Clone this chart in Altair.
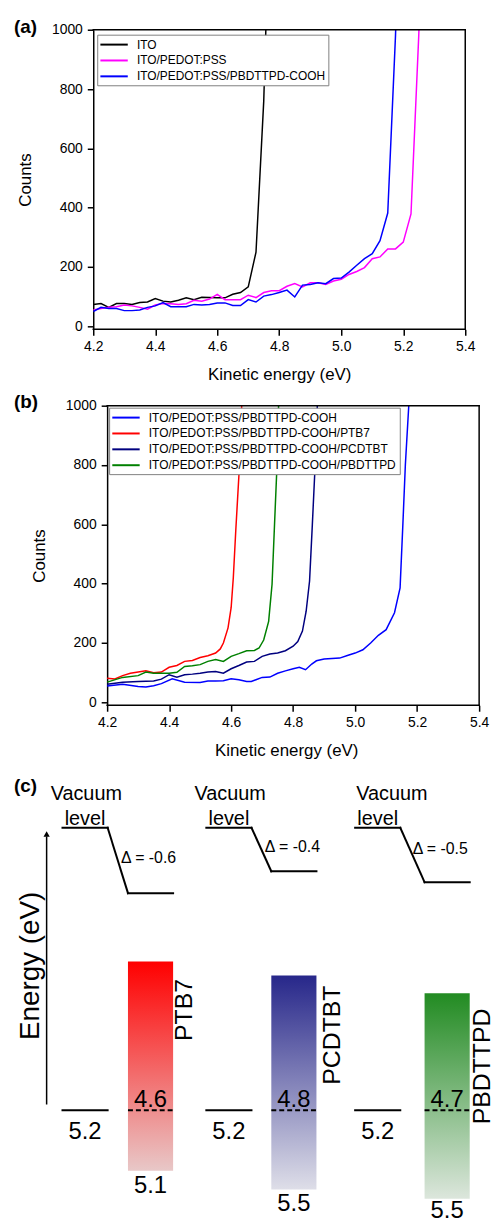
import altair as alt
import pandas as pd

FONT = "Liberation Sans"

# ---------------------------------------------------------------------------
# Panel (a): secondary-electron cut-off of the anode stack
# ---------------------------------------------------------------------------
ev_grid = [4.2, 4.225, 4.25, 4.275, 4.3, 4.325, 4.35, 4.375, 4.4, 4.425,
           4.45, 4.475, 4.5, 4.525, 4.55, 4.575, 4.6, 4.625, 4.65, 4.675,
           4.7, 4.725, 4.75, 4.775, 4.8, 4.825, 4.85, 4.875, 4.9, 4.925,
           4.95, 4.975, 5.0, 5.025, 5.05, 5.075, 5.1, 5.125, 5.15, 5.175,
           5.2, 5.225, 5.25, 5.275]

a_names = ["ITO", "ITO/PEDOT:PSS", "ITO/PEDOT:PSS/PBDTTPD-COOH"]
a_colors = ["#000000", "#ff00ff", "#0000ff"]

ito_counts = [74, 77, 64, 77, 77, 74, 80, 82, 94, 85, 82, 88, 96, 90, 98, 97,
              96, 96, 108, 114, 133, 250, 760, 1650]
pedot_counts = [55, 60, 64, 66, 72, 69, 64, 58, 72, 77, 76, 74, 76, 88, 85, 92,
                108, 90, 90, 90, 105, 97, 114, 120, 120, 135, 144, 133, 147,
                147, 141, 153, 159, 175, 185, 198, 228, 234, 261, 261, 284,
                379, 980, 1800]
cooh_counts_a = [50, 64, 60, 60, 53, 53, 55, 64, 69, 80, 66, 66, 66, 74, 72, 74,
                 79, 79, 70, 70, 90, 82, 102, 107, 114, 122, 99, 139, 141, 147,
                 144, 161, 163, 183, 206, 228, 245, 289, 382, 980, 1800]

# ---------------------------------------------------------------------------
# Panel (b): cut-off after each donor polymer is cast on the interlayer
# ---------------------------------------------------------------------------
b_names = ["ITO/PEDOT:PSS/PBDTTPD-COOH",
           "ITO/PEDOT:PSS/PBDTTPD-COOH/PTB7",
           "ITO/PEDOT:PSS/PBDTTPD-COOH/PCDTBT",
           "ITO/PEDOT:PSS/PBDTTPD-COOH/PBDTTPD"]
b_colors = ["#0000ff", "#ff0000", "#00007f", "#008000"]

cooh_ev_b = [4.2, 4.25, 4.3, 4.325, 4.35, 4.375, 4.41, 4.45, 4.5, 4.525, 4.55,
             4.575, 4.6, 4.625, 4.65, 4.665, 4.68, 4.7, 4.725, 4.75, 4.775,
             4.8, 4.82, 4.84, 4.86, 4.875, 4.9, 4.95, 4.975, 5.0, 5.025, 5.05,
             5.075, 5.1, 5.127, 5.145, 5.154, 5.162, 5.173, 5.185]
cooh_counts_b = [55, 61, 53, 52, 56, 63, 79, 68, 67, 72, 72, 73, 79, 76, 70,
                 70, 76, 84, 85, 98, 106, 113, 118, 110, 129, 140, 146, 149,
                 158, 166, 177, 200, 226, 245, 302, 386, 600, 800, 1000, 1300]

ptb7_ev = [4.2, 4.225, 4.25, 4.275, 4.3, 4.325, 4.35, 4.375, 4.4, 4.425, 4.45,
           4.475, 4.5, 4.525, 4.55, 4.565, 4.575, 4.59, 4.6, 4.607, 4.615,
           4.627, 4.634, 4.645]
ptb7_counts = [81, 79, 90, 98, 102, 106, 100, 102, 118, 124, 138, 141, 151,
               157, 166, 180, 200, 251, 319, 420, 580, 800, 1000, 1350]

pcdtbt_ev = [4.2, 4.25, 4.3, 4.35, 4.375, 4.4, 4.425, 4.45, 4.475, 4.5, 4.525,
             4.55, 4.575, 4.6, 4.625, 4.65, 4.675, 4.7, 4.725, 4.75, 4.775,
             4.8, 4.815, 4.83, 4.842, 4.853, 4.862, 4.871, 4.878, 4.89]
pcdtbt_counts = [61, 68, 70, 72, 78, 93, 85, 93, 95, 98, 102, 104, 98, 113,
                 124, 136, 138, 155, 163, 166, 174, 189, 205, 240, 307, 409,
                 600, 800, 1000, 1350]

pbdttpd_ev = [4.2, 4.25, 4.3, 4.325, 4.35, 4.375, 4.4, 4.425, 4.45, 4.475, 4.5,
              4.525, 4.55, 4.575, 4.6, 4.625, 4.65, 4.675, 4.69, 4.705, 4.721,
              4.732, 4.74, 4.748, 4.753, 4.765]
pbdttpd_counts = [68, 84, 90, 102, 98, 98, 98, 101, 121, 123, 127, 138, 144,
                  138, 155, 164, 174, 175, 183, 210, 273, 398, 600, 800, 1000,
                  1350]

x_ticks = [4.2, 4.4, 4.6, 4.8, 5.0, 5.2, 5.4]
y_ticks = [0, 200, 400, 600, 800, 1000]
E_MIN, E_MAX = 4.2, 5.4
C_MIN, C_MAX = -10, 1000

# ---------------------------------------------------------------------------
# Panel (c): energy-level alignment at the interlayer / polymer contact
# ---------------------------------------------------------------------------
polymers = ["PTB7", "PCDTBT", "PBDTTPD"]
vacuum_shift = [-0.6, -0.4, -0.5]       # interface dipole Δ (eV)
contact_wf = [5.2, 5.2, 5.2]            # PEDOT:PSS/PBDTTPD-COOH work function
fermi_level = [4.6, 4.8, 4.7]           # measured after polymer deposition
homo_level = [5.1, 5.5, 5.5]            # polymer HOMO
bar_top_color = ["#ff0000", "#27278a", "#228b22"]
bar_bottom_color = ["#e8c8c8", "#dedee8", "#dce6dc"]

# schematic layout of the level diagram (x: figure px, y: eV below vacuum)
col_x = [62, 207, 357]
bar_x = [128, 272.5, 427]
seg_w = 45.5
contact_y = -2.59
bar_top = [-1.227, -1.355, -1.518]
bar_bottom = [-3.145, -3.315, -3.40]
vac_text_x = [86, 231, 394]
delta_x = [121, 266, 415]
delta_y = [-0.327, -0.224, -0.245]
name_x = [193, 342, 493]
name_y = [-1.955, -2.355, -2.718]
homo_text_y = [-3.345, -3.512, -3.58]

PLOT_W, PLOT_H = 375, 302
PX_PER_EV = PLOT_W / (E_MAX - E_MIN)


def long_frame(names, xs, ys):
    rows = []
    for name, xv, yv in zip(names, xs, ys):
        for e, c in zip(xv, yv):
            rows.append({"series": name, "ev": e, "counts": c})
    return pd.DataFrame(rows)


def spectra_panel(df, names, colors, shift, legend_x, legend_y, tag, tag_dy):
    """Spectrum panel whose framed area starts `shift` px right of the
    shared column origin (the y axis is pulled in by the same amount)."""
    lo = E_MIN - shift / PX_PER_EV
    xs = alt.Scale(domain=[lo, E_MAX], nice=False, zero=False)
    ys = alt.Scale(domain=[C_MIN, C_MAX], nice=False, zero=False)
    lines = alt.Chart(df).mark_line(strokeWidth=1.5, clip=True).encode(
        x=alt.X("ev:Q", title="Kinetic energy (eV)", scale=xs,
                axis=alt.Axis(values=x_ticks, format=".1f", domain=False)),
        y=alt.Y("counts:Q", title="Counts", scale=ys,
                axis=alt.Axis(values=y_ticks, format="d", offset=-shift)),
        color=alt.Color(
            "series:N", title=None,
            scale=alt.Scale(domain=names, range=colors),
            legend=alt.Legend(
                orient="none", legendX=shift + legend_x, legendY=legend_y,
                direction="vertical", padding=3, rowPadding=3,
                strokeColor="#808080", fillColor="white",
                symbolType="M-2.3,0H2.3", symbolSize=144,
                symbolStrokeWidth=2, symbolOffset=7, labelOffset=16,
                labelFont=FONT, labelFontSize=12, labelColor="black",
                labelLimit=400)),
    )
    # frame: bottom, top and right edges of the data rectangle
    frame_df = pd.DataFrame({
        "x": [E_MIN, E_MIN, E_MAX], "x2": [E_MAX, E_MAX, E_MAX],
        "y": [C_MIN, C_MAX, C_MIN], "y2": [C_MIN, C_MAX, C_MAX]})
    frame = alt.Chart(frame_df).mark_rule(
        color="black", strokeWidth=1.5, strokeCap="square").encode(
        x=alt.X("x:Q", scale=xs), x2="x2:Q",
        y=alt.Y("y:Q", scale=ys), y2="y2:Q")
    tag_layer = alt.Chart(pd.DataFrame({"tag": [tag]})).mark_text(
        align="left", baseline="middle", font=FONT, fontSize=19,
        fontWeight="bold", color="black"
    ).encode(x=alt.value(-80), y=alt.value(tag_dy), text="tag:N")
    return alt.layer(lines, frame, tag_layer).properties(
        width=PLOT_W + shift, height=PLOT_H)


df_a = long_frame(a_names,
                  [ev_grid[:len(ito_counts)], ev_grid[:len(pedot_counts)],
                   ev_grid[:len(cooh_counts_a)]],
                  [ito_counts, pedot_counts, cooh_counts_a])
df_b = long_frame(b_names,
                  [cooh_ev_b, ptb7_ev, pcdtbt_ev, pbdttpd_ev],
                  [cooh_counts_b, ptb7_counts, pcdtbt_counts, pbdttpd_counts])

panel_a = spectra_panel(df_a, a_names, a_colors, 0, 4, 5, "(a)", -3)
panel_b = spectra_panel(df_b, b_names, b_colors, 14, 2, 2, "(b)", -4)

# ---- level diagram --------------------------------------------------------
ORIGIN_X = 93
C_W, C_H = 496 - ORIGIN_X, 460
E_TOP = 0.54
X_SCALE = alt.Scale(domain=[ORIGIN_X, ORIGIN_X + C_W], nice=False, zero=False)
Y_SCALE = alt.Scale(domain=[E_TOP - C_H / 110.0, E_TOP], nice=False, zero=False)


def xq(field):
    return alt.X(field, type="quantitative", scale=X_SCALE, axis=None)


def yq(field):
    return alt.Y(field, type="quantitative", scale=Y_SCALE, axis=None)


segments = []
for i in range(3):
    left_end = col_x[i] + seg_w
    segments += [
        {"x": col_x[i], "x2": left_end, "y": 0.0, "y2": 0.0},
        {"x": left_end, "x2": bar_x[i], "y": 0.0, "y2": vacuum_shift[i]},
        {"x": bar_x[i], "x2": bar_x[i] + seg_w, "y": vacuum_shift[i],
         "y2": vacuum_shift[i]},
        {"x": col_x[i], "x2": left_end, "y": contact_y, "y2": contact_y},
    ]
seg_df = pd.DataFrame(segments)

level_lines = alt.Chart(seg_df).mark_rule(
    color="black", strokeWidth=2, strokeCap="square").encode(
    x=xq("x:Q"), x2="x2:Q", y=yq("y:Q"), y2="y2:Q")

bars = []
for i in range(3):
    grad = alt.LinearGradient(
        gradient="linear", x1=0, x2=0, y1=0, y2=1,
        stops=[alt.GradientStop(color=bar_top_color[i], offset=0),
               alt.GradientStop(color=bar_bottom_color[i], offset=1)])
    bdf = pd.DataFrame({"x": [bar_x[i]], "x2": [bar_x[i] + seg_w],
                        "y": [bar_top[i]], "y2": [bar_bottom[i]]})
    bars.append(alt.Chart(bdf).mark_rect(fill=grad).encode(
        x=xq("x:Q"), x2="x2:Q", y=yq("y:Q"), y2="y2:Q"))

dash_df = pd.DataFrame({"x": bar_x, "x2": [b + seg_w for b in bar_x],
                        "y": [contact_y] * 3})
dashes = alt.Chart(dash_df).mark_rule(
    color="black", strokeWidth=2, strokeDash=[5, 3]).encode(
    x=xq("x:Q"), x2="x2:Q", y=yq("y:Q"))

arrow_df = pd.DataFrame({"x": [46], "y": [-2.536], "y2": [-0.08]})
arrow_shaft = alt.Chart(arrow_df).mark_rule(color="black", strokeWidth=1.5).encode(
    x=xq("x:Q"), y=yq("y:Q"), y2="y2:Q")
arrow_head = alt.Chart(pd.DataFrame({"x": [46], "y": [-0.057]})).mark_point(
    shape="triangle-up", filled=True, size=40, color="black", opacity=1).encode(
    x=xq("x:Q"), y=yq("y:Q"))


def text_layer(df, size, angle=0, align="center", weight="normal"):
    props = dict(font=FONT, fontSize=size, align=align, baseline="alphabetic",
                 color="black", fontWeight=weight)
    if angle:
        props["angle"] = angle
    return alt.Chart(df).mark_text(**props).encode(
        x=xq("x:Q"), y=yq("y:Q"), text="t:N")


vac_df = pd.DataFrame({"x": vac_text_x, "y": [0.2545] * 3, "t": ["Vacuum"] * 3})
lev_df = pd.DataFrame({"x": [c + seg_w / 2 for c in col_x], "y": [0.0273] * 3,
                       "t": ["level"] * 3})
delta_df = pd.DataFrame({"x": delta_x, "y": delta_y,
                         "t": [f"Δ = {d:.1f}" for d in vacuum_shift]})
wf_df = pd.DataFrame({"x": [c + seg_w / 2 for c in col_x], "y": [-2.852] * 3,
                      "t": [f"{v:.1f}" for v in contact_wf]})
fermi_df = pd.DataFrame({"x": [b + seg_w / 2 for b in bar_x], "y": [-2.557] * 3,
                         "t": [f"{v:.1f}" for v in fermi_level]})
homo_df = pd.DataFrame({"x": [b + seg_w / 2 for b in bar_x], "y": homo_text_y,
                        "t": [f"{v:.1f}" for v in homo_level]})
name_df = pd.DataFrame({"x": name_x, "y": name_y, "t": polymers})
axis_df = pd.DataFrame({"x": [38], "y": [-1.945], "t": ["Energy (eV)"]})
tag_df = pd.DataFrame({"x": [13], "y": [0.327], "t": ["(c)"]})

panel_c = alt.layer(
    *bars, dashes, level_lines, arrow_shaft, arrow_head,
    text_layer(vac_df, 20), text_layer(lev_df, 20),
    text_layer(delta_df, 16, align="left"),
    text_layer(wf_df, 24), text_layer(fermi_df, 24), text_layer(homo_df, 24),
    text_layer(name_df, 25, angle=270, align="left"),
    text_layer(axis_df, 28, angle=270, align="left"),
    text_layer(tag_df, 19, align="left", weight="bold"),
).properties(width=C_W, height=C_H)

chart = alt.concat(
    panel_a, panel_b, panel_c, columns=1, spacing=8
).resolve_scale(
    color="independent"
).resolve_legend(
    color="independent"
).properties(
    padding={"left": 13, "top": 12, "right": 0, "bottom": 0}
).configure_view(
    stroke="transparent"
).configure_axis(
    domainColor="black", domainWidth=1.5, tickColor="black", tickWidth=1.5,
    tickSize=6, grid=False, labelFont=FONT, labelFontSize=14,
    labelColor="black", titleFont=FONT, titleFontSize=17,
    titleFontWeight="normal", titleColor="black", labelFlush=False
).configure_axisY(
    labelPadding=5, titlePadding=17
).configure_axisX(
    labelPadding=4, titlePadding=14
)

chart.save("out.html", embed_options={"renderer": "svg", "actions": False})
